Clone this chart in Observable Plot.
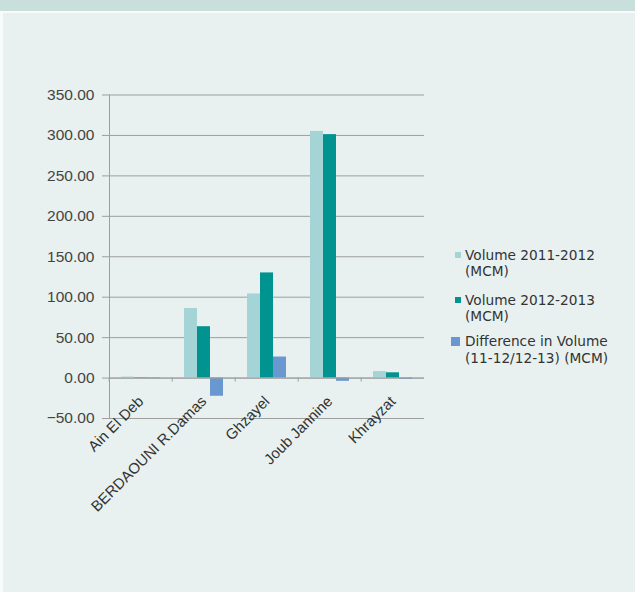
<!DOCTYPE html>
<html><head><meta charset="utf-8">
<script src="https://cdn.jsdelivr.net/npm/d3@7"></script>
<script src="https://cdn.jsdelivr.net/npm/@observablehq/plot@0.6"></script>
<style>
html,body{margin:0;padding:0;width:635px;height:592px;overflow:hidden;background:#f7fbfa;}
#band{position:absolute;left:0;top:0;width:635px;height:11px;background:#c8dfdc;}
#panel{position:absolute;left:3px;top:13px;right:0;bottom:0;background:#e8f1ef;}
#chart{position:absolute;left:0;top:0;}
.item{position:absolute;left:465px;font-family:"DejaVu Sans";font-size:13.7px;color:#333;line-height:16.7px;white-space:nowrap;}
.sw{position:absolute;}
</style></head>
<body>
<div id="band"></div>
<div id="panel"></div>
<div id="chart"></div>
<div id="legend"></div>
<script>
const categories = ["Ain El Deb", "BERDAOUNI R.Damas", "Ghzayel", "Joub Jannine", "Khrayzat"];
const series = ["Volume 2011-2012 (MCM)", "Volume 2012-2013 (MCM)", "Difference in Volume (11-12/12-13) (MCM)"];
const legendLines = [["Volume 2011-2012", "(MCM)"], ["Volume 2012-2013", "(MCM)"], ["Difference in Volume", "(11-12/12-13) (MCM)"]];
const vol2011 = [1.2, 86, 104, 305, 8];
const vol2012 = [0.5, 63.5, 130, 301, 6.5];
const diff = [-0.7, -22.5, 26, -4, -1.5];
const yTicks = [-50, 0, 50, 100, 150, 200, 250, 300, 350];
const colors = ["#a4d4d6", "#009390", "#6898cf"];

const data = categories.flatMap((c, i) => [
  {cat: c, series: series[0], value: vol2011[i]},
  {cat: c, series: series[1], value: vol2012[i]},
  {cat: c, series: series[2], value: diff[i]}
]);

const W = 635, H = 592, mL = 107, mR = 210, mT = 94.5, mB = 174;
const plotH = H - mT - mB;
const zeroOff = plotH * (0 - (-50)) / (350 - (-50));
const fxStep = (W - mL - mR) / categories.length;
const grey = "#9e9e9e";

const plot = Plot.plot({
  width: W, height: H,
  marginLeft: mL, marginRight: mR, marginTop: mT, marginBottom: mB,
  style: {background: "transparent", fontFamily: "'Liberation Sans', Arial, sans-serif", fontSize: "15px", color: "#444"},
  fx: {domain: categories, paddingInner: 0, paddingOuter: 0, label: null},
  x: {domain: series, paddingInner: 0, paddingOuter: 0.77, axis: null},
  y: {domain: [-50, 350], label: null},
  color: {domain: series, range: colors},
  marks: [
    Plot.gridY(yTicks, {stroke: grey, strokeOpacity: 1}),
    Plot.axisY(yTicks, {tickFormat: d3.format(".2f"), tickSize: 7, tickPadding: 8, stroke: grey, fill: "#444", fontSize: 15.5, label: null}),
    Plot.barY(data, {fx: "cat", x: "series", y: "value", fill: "series"}),
    Plot.ruleY([0], {stroke: grey}),
    Plot.frame({anchor: "left", facet: "super", stroke: grey}),
    Plot.axisFx({anchor: "bottom", tickSize: 4, tickFormat: () => "", dx: -fxStep / 2, dy: -zeroOff, stroke: grey, label: null}),
    Plot.axisFx({anchor: "bottom", tickSize: 0, tickRotate: -45, dy: -zeroOff + 9, fill: "#333", fontSize: 15, label: null})
  ]
});
document.getElementById("chart").appendChild(plot);

// legend
const legend = document.getElementById("legend");
const tops = [246.5, 291.5, 333.3];
const sws = [{x: 455, y: 252, s: 6}, {x: 455, y: 297, s: 6}, {x: 451, y: 337, s: 9}];
series.forEach((s, i) => {
  const it = document.createElement("div");
  it.className = "item";
  it.style.top = tops[i] + "px";
  it.innerHTML = legendLines[i].join("<br>");
  legend.appendChild(it);
  const sw = document.createElement("div");
  sw.className = "sw";
  sw.style.left = sws[i].x + "px";
  sw.style.top = sws[i].y + "px";
  sw.style.width = sws[i].s + "px";
  sw.style.height = sws[i].s + "px";
  sw.style.background = colors[i];
  legend.appendChild(sw);
});
</script>
</body></html>
